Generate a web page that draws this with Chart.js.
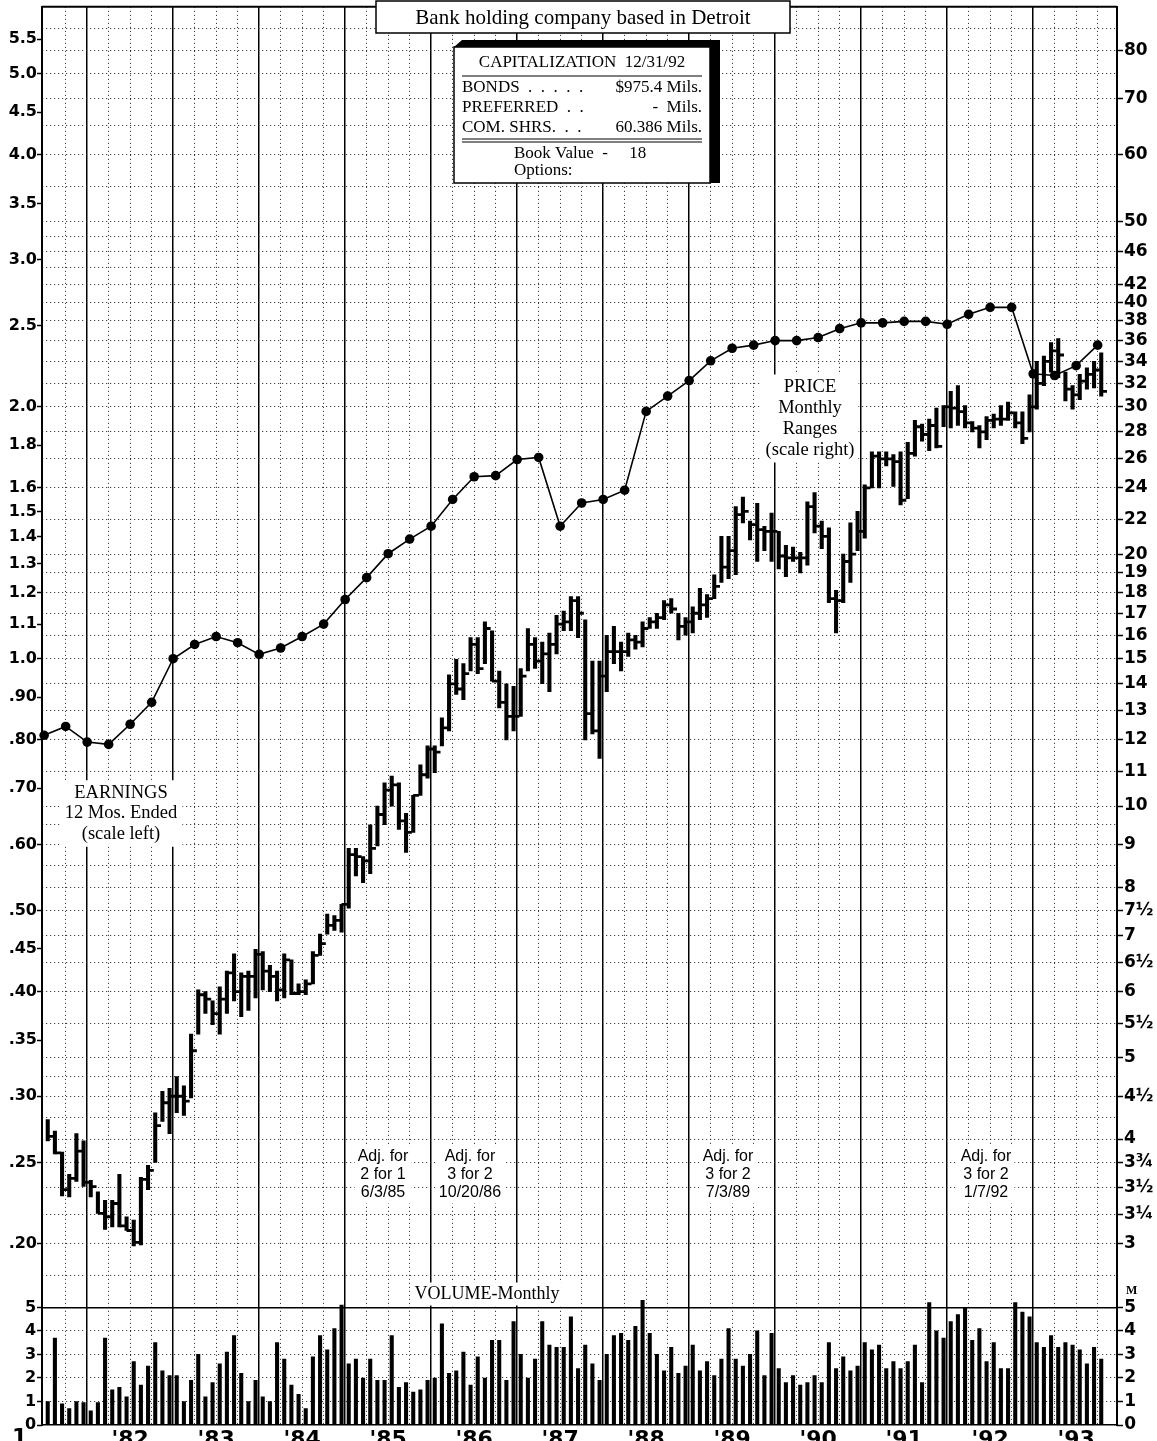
<!DOCTYPE html>
<html>
<head>
<meta charset="utf-8">
<script src="https://cdn.jsdelivr.net/npm/chart.js@4.4.0/dist/chart.umd.min.js"></script>
<style>
  html, body { margin: 0; padding: 0; background: #fff; }
</style>
</head>
<body>
<canvas id="chart" width="1157" height="1441"></canvas>
<script>
// monthly ranges, index 0 = Jul '81 ... index 147 = Oct '93
const PRICE_HIGH = [
  4.22, 4.09, 3.86, 3.63, 4.06, 3.98,
  3.57, 3.46, 3.38, 3.38, 3.63, 3.23, 3.20, 3.60, 3.72, 4.30, 4.56, 4.60,
  4.75, 4.63, 5.34, 6.03, 6.00, 5.85, 6.08, 6.35, 6.66, 6.32, 6.35, 6.74,
  6.70, 6.45, 6.35, 6.66, 6.55, 6.13, 6.20, 6.70, 7.03, 7.43, 7.40, 7.63,
  8.90, 8.90, 8.70, 9.50, 10.0, 10.66, 10.86, 10.66, 9.80, 10.3, 11.2, 11.8,
  11.8, 12.75, 14.35, 14.97, 14.8, 15.9, 15.9, 16.6, 16.2, 14.5, 14.0, 13.9,
  14.6, 16.3, 15.9, 15.7, 16.1, 16.9, 17.1, 17.8, 17.8, 16.7, 14.9, 14.9,
  16.0, 16.4, 15.7, 16.1, 16.0, 16.6, 16.8, 17.0, 17.6, 17.7, 17.0, 16.8,
  17.3, 18.2, 17.9, 18.9, 21.0, 21.0, 22.8, 23.4, 21.9, 23.0, 21.6, 22.4,
  21.3, 20.5, 20.4, 20.1, 23.1, 23.7, 21.9, 21.5, 18.1, 20.0, 21.8, 22.5,
  24.2, 26.5, 26.5, 26.5, 26.3, 26.5, 27.2, 28.9, 28.6, 29.0, 29.9, 30.1,
  31.3, 31.8, 30.1, 28.8, 28.5, 29.2, 29.4, 30.1, 30.4, 29.6, 29.6, 31.0,
  34.0, 34.5, 35.8, 36.2, 33.0, 31.8, 32.8, 33.4, 34.0, 34.8
];
const PRICE_LOW = [
  3.98, 3.84, 3.42, 3.41, 3.56, 3.51,
  3.41, 3.26, 3.12, 3.14, 3.14, 3.11, 2.98, 2.99, 3.48, 3.75, 4.20, 4.06,
  4.30, 4.27, 4.48, 5.34, 5.65, 5.48, 5.34, 5.65, 5.85, 5.60, 5.70, 5.90,
  6.03, 6.00, 5.85, 5.90, 5.95, 5.95, 5.95, 6.13, 6.63, 7.03, 7.10, 7.07,
  7.55, 8.25, 8.10, 8.30, 8.96, 9.50, 10.0, 9.38, 8.80, 9.30, 10.3, 10.8,
  10.96, 11.8, 12.3, 13.6, 13.4, 14.5, 14.4, 14.8, 14.1, 13.1, 12.0, 12.3,
  12.8, 14.5, 14.6, 14.0, 13.7, 15.2, 16.2, 16.2, 15.9, 12.0, 12.2, 11.4,
  13.7, 14.8, 14.5, 15.1, 15.4, 15.5, 16.3, 16.3, 16.7, 17.0, 15.8, 16.0,
  16.1, 16.7, 16.8, 17.7, 18.5, 18.7, 18.9, 21.8, 20.8, 19.6, 20.2, 19.6,
  19.2, 18.8, 19.6, 19.0, 19.4, 21.2, 20.3, 17.5, 16.1, 17.5, 18.5, 20.2,
  20.9, 24.0, 24.0, 25.5, 24.1, 22.9, 23.3, 26.2, 27.3, 26.6, 26.8, 28.4,
  28.3, 28.5, 28.3, 28.0, 26.8, 27.4, 28.3, 28.5, 28.9, 28.3, 27.1, 28.0,
  29.8, 31.8, 33.0, 32.5, 30.5, 29.8, 30.6, 31.5, 31.6, 30.9
];
const PRICE_CLOSE = [
  4.03, 3.85, 3.48, 3.59, 3.87, 3.55,
  3.51, 3.26, 3.23, 3.35, 3.15, 3.11, 3.01, 3.58, 3.67, 4.15, 4.42, 4.50,
  4.50, 4.44, 5.10, 5.95, 5.88, 5.65, 5.88, 6.32, 6.00, 6.26, 6.26, 6.65,
  6.35, 6.26, 6.03, 6.55, 5.97, 6.00, 6.13, 6.63, 6.85, 7.20, 7.30, 7.63,
  8.75, 8.70, 8.60, 8.90, 9.77, 10.45, 10.6, 9.60, 9.30, 10.3, 10.9, 11.7,
  11.6, 12.4, 14.0, 13.8, 14.4, 15.6, 14.6, 16.3, 14.1, 13.3, 12.8, 12.8,
  14.3, 15.6, 14.9, 15.2, 15.6, 16.5, 16.6, 17.6, 17.0, 12.9, 12.3, 14.3,
  15.3, 15.3, 15.3, 15.8, 15.7, 16.3, 16.6, 16.8, 17.4, 17.2, 16.4, 16.6,
  17.0, 17.4, 17.7, 18.3, 19.3, 20.2, 22.3, 22.5, 21.7, 21.4, 21.3, 21.3,
  19.9, 19.8, 19.8, 19.8, 22.8, 21.6, 21.0, 17.7, 17.6, 19.6, 20.0, 21.3,
  24.0, 26.2, 26.0, 26.0, 25.8, 23.2, 26.4, 28.4, 27.8, 28.5, 26.9, 30.0,
  29.9, 29.6, 28.7, 28.3, 28.0, 28.9, 29.0, 29.0, 29.5, 28.7, 27.5, 30.0,
  32.0, 34.0, 35.0, 34.6, 31.5, 31.0, 32.2, 32.8, 33.2, 31.3
];
// monthly volume, millions of shares
const VOLUME = [
  1.0, 3.7, 0.9, 0.7, 1.0, 0.95,
  0.6, 0.95, 3.7, 1.5, 1.6, 1.2, 2.7, 1.7, 2.5, 3.5, 2.3, 2.1,
  2.1, 1.0, 1.9, 3.0, 1.2, 1.8, 2.6, 3.1, 3.8, 2.2, 1.0, 1.9,
  1.2, 1.0, 3.5, 2.8, 1.7, 1.3, 0.7, 2.9, 3.8, 3.2, 4.1, 5.1,
  2.6, 2.8, 2.0, 2.8, 1.9, 1.9, 3.8, 1.6, 1.8, 1.4, 1.5, 1.9,
  2.0, 4.3, 2.2, 2.3, 3.1, 1.7, 2.9, 2.0, 3.6, 3.6, 1.9, 4.4,
  3.0, 2.0, 2.8, 4.4, 3.4, 3.3, 3.3, 4.6, 2.4, 3.4, 2.6, 1.9,
  3.0, 3.8, 3.9, 3.6, 4.2, 5.3, 3.9, 3.0, 2.3, 3.3, 2.2, 2.5,
  3.4, 2.3, 2.7, 2.1, 2.8, 4.1, 2.8, 2.5, 3.0, 4.0, 2.1, 3.9,
  2.4, 1.8, 2.1, 1.7, 1.8, 2.1, 1.8, 3.5, 2.4, 2.9, 2.3, 2.5,
  3.5, 3.2, 3.4, 2.4, 2.7, 2.4, 2.7, 3.4, 1.8, 5.2, 4.0, 3.7,
  4.4, 4.7, 5.0, 3.6, 4.1, 2.7, 3.5, 2.4, 2.4, 5.2, 4.8, 4.6,
  3.5, 3.3, 3.8, 3.3, 3.5, 3.4, 3.2, 2.6, 3.3, 2.8
];
// 12 months earnings, one point per quarter end from Jun '81
const EARNINGS = [
  0.81, 0.83, 0.795, 0.79, 0.835, 0.887, 1.0, 1.04, 1.063, 1.045,
  1.012, 1.03, 1.063, 1.10, 1.177, 1.25, 1.335, 1.39, 1.44, 1.55,
  1.65, 1.655, 1.73, 1.74, 1.44, 1.535, 1.55, 1.59, 1.975, 2.06,
  2.15, 2.27, 2.35, 2.37, 2.40, 2.40, 2.42, 2.48, 2.52, 2.52,
  2.53, 2.53, 2.51, 2.58, 2.63, 2.63, 2.19, 2.18, 2.24, 2.37
];
const YEAR_LABELS = ["'82", "'83", "'84", "'85", "'86", "'87", "'88", "'89", "'90", "'91", "'92", "'93"];
const LEFT_TICKS = [5.5, 5.0, 4.5, 4.0, 3.5, 3.0, 2.5, 2.0, 1.8, 1.6, 1.5, 1.4, 1.3, 1.2, 1.1, 1.0,
  0.9, 0.8, 0.7, 0.6, 0.5, 0.45, 0.4, 0.35, 0.3, 0.25, 0.2];
const RIGHT_TICKS = [80, 70, 60, 50, 46, 42, 40, 38, 36, 34, 32, 30, 28, 26, 24, 22, 20, 19, 18, 17,
  16, 15, 14, 13, 12, 11, 10, 9, 8, 7.5, 7, 6.5, 6, 5.5, 5, 4.5, 4, 3.75, 3.5, 3.25, 3];
const GRID_PRICES = [2.75, 3, 3.25, 3.5, 3.75, 4, 4.25, 4.5, 4.75, 5, 5.5, 6, 6.5, 7, 7.5, 8, 8.5, 9, 9.5,
  10, 11, 12, 13, 14, 15, 16, 17, 18, 19, 20, 22, 24, 26, 28, 30, 32, 34, 36, 38, 40, 42, 44, 46, 48,
  50, 55, 60, 65, 70, 75, 80, 85];
const VOLUME_TICKS = [0, 1, 2, 3, 4, 5];

const XMIN = -0.8, XMAX = 149.2;
const PMIN = 1.821, PMAX = 90.2;   // price scale (right)
const EPS_RATIO = 15;              // earnings scale = price / 15
const VMAX = 60.3;
const DOT = 'rgba(30,30,30,0.85)';
const DOT_DASH = [1.2, 2.8];
const AXIS_FONT = { family: 'DejaVu Sans', size: 16, weight: 'bold' };

const yearStarts = YEAR_LABELS.map((_, j) => 5.5 + 12 * j);
const yearMids = YEAR_LABELS.map((_, j) => 11.5 + 12 * j);
const quarterLines = [];
for (let q = 2.5; q < XMAX; q += 3) if (!yearStarts.includes(q)) quarterLines.push(q);

function setTicks(values) {
  return (scale) => { scale.ticks = values.map(v => ({ value: v })); };
}
function fixSize(w, h) {
  return (scale) => {
    if (w !== null) scale.width = w;
    if (h !== null) scale.height = h;
    scale.paddingTop = scale.paddingBottom = scale.paddingLeft = scale.paddingRight = 0;
  };
}
function fraction(v) {
  const whole = Math.floor(v), part = v - whole;
  if (part === 0.5) return whole + '\u00BD';
  if (part === 0.25) return whole + '\u00BC';
  if (part === 0.75) return whole + '\u00BE';
  return String(v);
}

function textBlock(ctx, lines, cx, cy, lh, font, pad) {
  ctx.font = font;
  const w = Math.max(...lines.map(t => ctx.measureText(t).width));
  ctx.fillStyle = '#fff';
  ctx.fillRect(cx - w / 2 - pad, cy - lh / 2 - pad / 2, w + 2 * pad, lh * lines.length + pad);
  ctx.fillStyle = '#000';
  ctx.textAlign = 'center';
  ctx.textBaseline = 'middle';
  lines.forEach((t, k) => ctx.fillText(t, cx, cy + k * lh));
}

const notes = {
  id: 'notes',
  beforeDatasetsDraw(chart) {
    const ctx = chart.ctx;
    ctx.save();
    const serif = '18.5px "Liberation Serif"';
    textBlock(ctx, ['EARNINGS', '12 Mos. Ended', '(scale left)'], 121, 793, 20.5, serif, 5);
    textBlock(ctx, ['PRICE', 'Monthly', 'Ranges', '(scale right)'], 810, 387, 21, serif, 4);
    const adj = '16px "Liberation Sans"';
    textBlock(ctx, ['Adj. for', '2 for 1', '6/3/85'], 383, 1157, 18, adj, 3);
    textBlock(ctx, ['Adj. for', '3 for 2', '10/20/86'], 470, 1157, 18, adj, 3);
    textBlock(ctx, ['Adj. for', '3 for 2', '7/3/89'], 728, 1157, 18, adj, 3);
    textBlock(ctx, ['Adj. for', '3 for 2', '1/7/92'], 986, 1157, 18, adj, 3);
    textBlock(ctx, ['VOLUME-Monthly'], 487, 1294, 20, '18px "Liberation Serif"', 3);
    ctx.restore();
  },
  afterDraw(chart) {
    const ctx = chart.ctx;
    const a = chart.chartArea;
    ctx.save();
    // top frame
    ctx.strokeStyle = '#000';
    ctx.lineWidth = 2;
    ctx.beginPath();
    ctx.moveTo(a.left, a.top);
    ctx.lineTo(a.right, a.top);
    ctx.stroke();

    // title box
    ctx.fillStyle = '#fff';
    ctx.fillRect(376, 1, 414, 32);
    ctx.lineWidth = 1.5;
    ctx.strokeRect(376, 1, 414, 32);
    ctx.fillStyle = '#000';
    ctx.font = '21px "Liberation Serif"';
    ctx.textAlign = 'center';
    ctx.textBaseline = 'middle';
    ctx.fillText('Bank holding company based in Detroit', 583, 18);

    // capitalization box with shadow
    ctx.beginPath();
    ctx.moveTo(454, 47); ctx.lineTo(462, 40); ctx.lineTo(720, 40);
    ctx.lineTo(720, 183); ctx.lineTo(710, 183); ctx.closePath();
    ctx.fill();
    ctx.fillStyle = '#fff';
    ctx.fillRect(454, 47, 256, 136);
    ctx.strokeRect(454, 47, 256, 136);
    ctx.fillStyle = '#000';
    ctx.font = '17px "Liberation Serif"';
    ctx.fillText('CAPITALIZATION  12/31/92', 582, 63);
    ctx.lineWidth = 1;
    [76, 139, 142].forEach(y => {
      ctx.beginPath(); ctx.moveTo(462, y); ctx.lineTo(702, y); ctx.stroke();
    });
    ctx.textAlign = 'left';
    ctx.fillText('BONDS  .  .  .  .  .', 462, 88);
    ctx.fillText('PREFERRED  .  .', 462, 108);
    ctx.fillText('COM. SHRS.  .  .', 462, 128);
    ctx.fillText('Book Value  -     18', 514, 154);
    ctx.fillText('Options:', 514, 171);
    ctx.textAlign = 'right';
    ctx.fillText('$975.4 Mils.', 702, 88);
    ctx.fillText('-  Mils.', 702, 108);
    ctx.fillText('60.386 Mils.', 702, 128);

    // small marks
    ctx.font = 'bold 12px "Liberation Serif"';
    ctx.textAlign = 'left';
    ctx.fillText('M', 1126, 1291);
    ctx.font = 'bold 22px "DejaVu Sans"';
    ctx.textBaseline = 'top';
    ctx.fillText('1', 12, 1427);
    ctx.restore();
  }
};

const chart = new Chart(document.getElementById('chart'), {
  type: 'bar',
  data: {
    datasets: [
      {
        type: 'line',
        label: 'Earnings',
        data: EARNINGS.map((e, k) => ({ x: -0.5 + 3 * k, y: e })),
        xAxisID: 'x', yAxisID: 'yE',
        borderColor: '#000', borderWidth: 1.6,
        pointRadius: 4.8, pointBackgroundColor: '#000', pointBorderWidth: 0,
        tension: 0, clip: false
      },
      {
        type: 'line',
        label: 'Close',
        data: PRICE_CLOSE.map((c, i) => ({ x: i + 0.4, y: c })),
        xAxisID: 'x', yAxisID: 'yP',
        showLine: false,
        pointStyle: 'line', pointRadius: 2.9, pointBorderWidth: 2.8,
        pointBorderColor: '#000', borderColor: '#000'
      },
      {
        type: 'bar',
        label: 'Range',
        data: PRICE_HIGH.map((h, i) => ({ x: i, y: [PRICE_LOW[i], h] })),
        xAxisID: 'x', yAxisID: 'yP',
        backgroundColor: '#000', barThickness: 3.4, grouped: false
      },
      {
        type: 'bar',
        label: 'Volume',
        data: VOLUME.map((v, i) => ({ x: i, y: v })),
        xAxisID: 'x', yAxisID: 'yVL',
        backgroundColor: '#000', barThickness: 3.4, grouped: false
      }
    ]
  },
  options: {
    responsive: false,
    animation: false,
    devicePixelRatio: 1,
    events: [],
    layout: { padding: { top: 2, left: 0, right: 0, bottom: 0 } },
    plugins: { legend: { display: false }, tooltip: { enabled: false } },
    scales: {
      x: {
        type: 'linear', position: 'bottom', weight: 10,
        min: XMIN, max: XMAX, offset: false,
        afterBuildTicks: setTicks(yearMids),
        afterFit: fixSize(null, 16),
        grid: { display: false, drawTicks: false, offset: false },
        border: { display: false },
        ticks: {
          autoSkip: false, maxRotation: 0, padding: 2, color: '#000',
          font: { family: 'DejaVu Sans', size: 22, weight: 'bold' },
          callback: (v, i) => YEAR_LABELS[i]
        }
      },
      xYear: {
        type: 'linear', position: 'bottom', weight: 0,
        min: XMIN, max: XMAX, offset: false,
        afterBuildTicks: setTicks(yearStarts),
        afterFit: fixSize(null, 0),
        ticks: { display: false },
        grid: { color: '#000', lineWidth: 1.5, drawTicks: false, offset: false },
        border: { display: false }
      },
      xQtr: {
        type: 'linear', position: 'bottom', weight: 0,
        min: XMIN, max: XMAX, offset: false,
        afterBuildTicks: setTicks(quarterLines),
        afterFit: fixSize(null, 0),
        ticks: { display: false },
        grid: { color: DOT, lineWidth: 1, drawTicks: false, offset: false },
        border: { display: false, dash: DOT_DASH }
      },
      yE: {
        type: 'logarithmic', position: 'left', weight: 10,
        min: PMIN / EPS_RATIO, max: PMAX / EPS_RATIO, bounds: 'data',
        afterBuildTicks: setTicks(LEFT_TICKS),
        afterFit: fixSize(42, null),
        grid: { drawOnChartArea: false, drawTicks: true, tickLength: 5, tickColor: '#000', tickWidth: 1.5 },
        border: { display: true, color: '#000', width: 2 },
        ticks: {
          autoSkip: false, padding: 0, color: '#000', font: AXIS_FONT,
          callback: v => (v >= 1 ? v.toFixed(1) : '.' + Math.round(v * 100))
        }
      },
      yVL: {
        type: 'linear', position: 'left', weight: 0,
        min: 0, max: VMAX,
        afterBuildTicks: setTicks(VOLUME_TICKS),
        afterFit: fixSize(0, null),
        grid: {
          drawTicks: true, tickLength: 5, tickColor: '#000', tickWidth: 1.5, lineWidth: 1,
          color: c => (c.tick && (c.tick.value === 0 || c.tick.value === 5) ? 'rgba(0,0,0,0)' : DOT)
        },
        border: { display: false, dash: DOT_DASH },
        ticks: { autoSkip: false, mirror: true, padding: -17, color: '#000', font: AXIS_FONT }
      },
      yVLine: {
        type: 'linear', position: 'left', weight: 0,
        min: 0, max: VMAX,
        afterBuildTicks: setTicks([0, 5]),
        afterFit: fixSize(0, null),
        ticks: { display: false },
        grid: { color: '#000', lineWidth: 1.5, drawTicks: false },
        border: { display: false }
      },
      yP: {
        type: 'logarithmic', position: 'right', weight: 10,
        min: PMIN, max: PMAX, bounds: 'data',
        afterBuildTicks: setTicks(RIGHT_TICKS),
        afterFit: fixSize(40, null),
        grid: { drawOnChartArea: false, drawTicks: true, tickLength: 6, tickColor: '#000', tickWidth: 1.5 },
        border: { display: true, color: '#000', width: 2 },
        ticks: {
          autoSkip: false, padding: 1, color: '#000',
          font: { family: 'DejaVu Sans', size: 17, weight: 'bold' },
          callback: v => fraction(v)
        }
      },
      yPGrid: {
        type: 'logarithmic', position: 'right', weight: 0,
        min: PMIN, max: PMAX, bounds: 'data',
        afterBuildTicks: setTicks(GRID_PRICES),
        afterFit: fixSize(0, null),
        ticks: { display: false },
        grid: { color: DOT, lineWidth: 1, drawTicks: false },
        border: { display: false, dash: DOT_DASH }
      },
      yVR: {
        type: 'linear', position: 'right', weight: 0,
        min: 0, max: VMAX,
        afterBuildTicks: setTicks(VOLUME_TICKS),
        afterFit: fixSize(0, null),
        grid: { drawOnChartArea: false, drawTicks: true, tickLength: 6, tickColor: '#000', tickWidth: 1.5 },
        border: { display: false },
        ticks: {
          autoSkip: false, mirror: true, padding: 19, color: '#000',
          font: { family: 'DejaVu Sans', size: 17, weight: 'bold' }
        }
      }
    }
  },
  plugins: [notes]
});
</script>
</body>
</html>
